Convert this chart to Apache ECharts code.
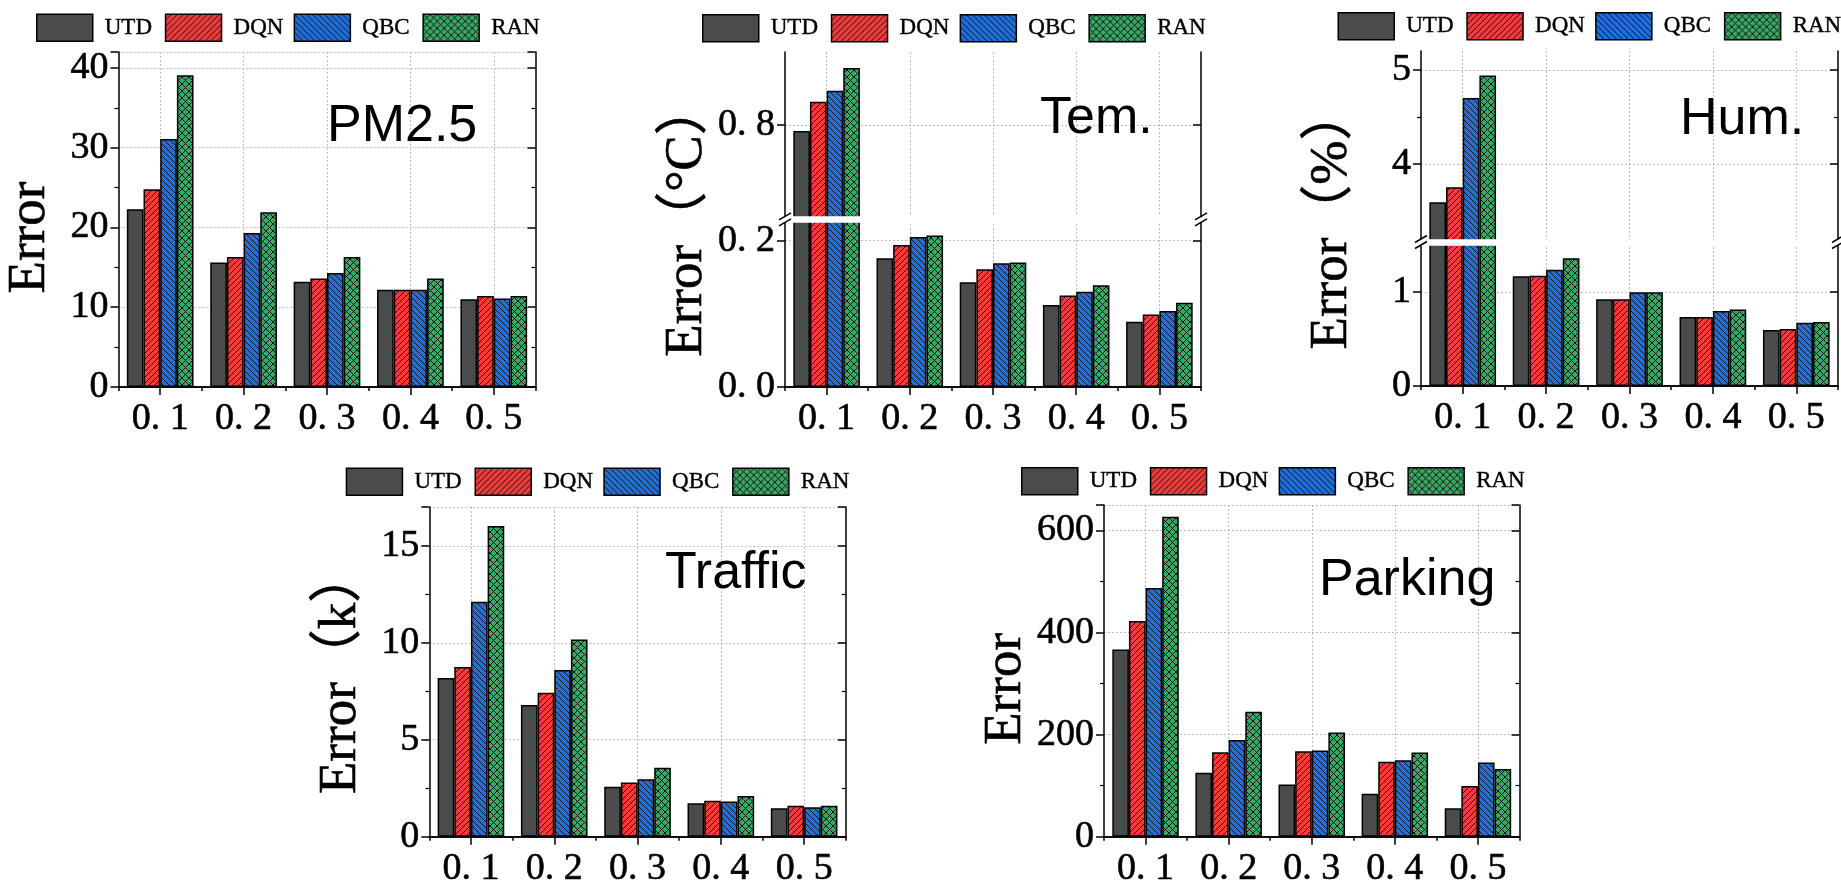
<!DOCTYPE html>
<html>
<head>
<meta charset="utf-8">
<script src="https://cdn.jsdelivr.net/npm/echarts@6/dist/echarts.min.js"></script>
<style>
  html, body { margin: 0; padding: 0; background: #fff; }
  #chart { width: 1841px; height: 888px; }
</style>
</head>
<body>
<div id="chart"></div>
<script>
// ---- data -------------------------------------------------------------
const categories = ['0.1', '0.2', '0.3', '0.4', '0.5'];
const methods = ['UTD', 'DQN', 'QBC', 'RAN'];

// PM2.5 error
const pmUTD = [22.3, 15.6, 13.2, 12.2, 11.0];
const pmDQN = [24.8, 16.3, 13.6, 12.2, 11.4];
const pmQBC = [31.1, 19.3, 14.3, 12.2, 11.1];
const pmRAN = [39.1, 21.9, 16.3, 13.6, 11.4];

// Temperature error (°C)
const temUTD = [0.792, 0.176, 0.143, 0.112, 0.089];
const temDQN = [0.832, 0.194, 0.161, 0.125, 0.099];
const temQBC = [0.847, 0.205, 0.169, 0.130, 0.104];
const temRAN = [0.878, 0.207, 0.170, 0.139, 0.115];

// Humidity error (%)
const humUTD = [3.59, 1.167, 0.922, 0.734, 0.596];
const humDQN = [3.75, 1.174, 0.922, 0.734, 0.606];
const humQBC = [4.70, 1.238, 0.997, 0.798, 0.674];
const humRAN = [4.94, 1.358, 0.997, 0.813, 0.681];

// Traffic error (k)
const trfUTD = [8.18, 6.79, 2.57, 1.72, 1.47];
const trfDQN = [8.75, 7.42, 2.79, 1.86, 1.59];
const trfQBC = [12.11, 8.59, 2.96, 1.81, 1.52];
const trfRAN = [16.02, 10.17, 3.55, 2.10, 1.59];

// Parking error
const parkUTD = [366.6, 125.4, 102.2, 84.0, 55.6];
const parkDQN = [422.8, 165.5, 167.4, 146.8, 99.5];
const parkQBC = [487.4, 189.5, 168.7, 150.0, 145.5];
const parkRAN = [627.1, 245.0, 204.3, 164.9, 132.5];

// ---- fills: solid + hatch patterns -------------------------------------
function hatch(bg, kind, size) {
  const c = document.createElement('canvas');
  c.width = size; c.height = size;
  const ctx = c.getContext('2d');
  ctx.fillStyle = bg;
  ctx.fillRect(0, 0, size, size);
  ctx.strokeStyle = '#111';
  ctx.lineWidth = 1;
  const s = size;
  const fwd = () => {
    ctx.beginPath();
    ctx.moveTo(-1, s + 1); ctx.lineTo(s + 1, -1);
    ctx.moveTo(-1, 1); ctx.lineTo(1, -1);
    ctx.moveTo(s - 1, s + 1); ctx.lineTo(s + 1, s - 1);
    ctx.stroke();
  };
  const back = () => {
    ctx.beginPath();
    ctx.moveTo(-1, -1); ctx.lineTo(s + 1, s + 1);
    ctx.moveTo(s - 1, -1); ctx.lineTo(s + 1, 1);
    ctx.moveTo(-1, s - 1); ctx.lineTo(1, s + 1);
    ctx.stroke();
  };
  if (kind === 'fwd' || kind === 'cross') fwd();
  if (kind === 'back' || kind === 'cross') back();
  return { image: c, repeat: 'repeat' };
}

const fills = [
  '#4b4b4b',
  hatch('#f23c3c', 'fwd', 6),
  hatch('#1f6fdd', 'back', 6),
  hatch('#3aa865', 'cross', 7)
];

// ---- panel layout ------------------------------------------------------
const serif = '"Liberation Serif", "Noto Sans CJK SC", serif';
const sans = '"Liberation Sans", Arial, sans-serif';

const intFmt = v => String(Math.round(v));
const decFmt = v => v.toFixed(1).replace('.', '. ');

const panels = [
  { title: 'PM2.5', yName: 'Error', namePad: 36, series: [pmUTD, pmDQN, pmQBC, pmRAN],
    grid: { left: 118.5, top: 52, width: 417, height: 335 },
    y: { min: 0, max: 42, interval: 10 }, fmt: intFmt,
    titlePos: [327, 101], legendPos: [36, 13.5] },
  { title: 'Tem.', yName: 'Error\uFF08\u00B0C\uFF09', namePad: 0, series: [temUTD, temDQN, temQBC, temRAN],
    grid: { left: 785, top: 52, width: 416, height: 335 },
    y: { min: 0, max: 0.9, interval: 0.2 }, fmt: decFmt,
    brk: { start: 0.225, end: 0.6755 }, labels: [0, 0.2, 0.8],
    titlePos: [1040, 93], legendPos: [702, 14] },
  { title: 'Hum.', yName: 'Error\uFF08%\uFF09', namePad: 0, series: [humUTD, humDQN, humQBC, humRAN],
    grid: { left: 1421, top: 51, width: 417, height: 335 },
    y: { min: 0, max: 5.2, interval: 1 }, fmt: intFmt,
    brk: { start: 1.5, end: 3.2 }, labels: [0, 1, 4, 5],
    titlePos: [1680, 94], legendPos: [1337.5, 12] },
  { title: 'Traffic', yName: 'Error\uFF08k\uFF09', namePad: 0, series: [trfUTD, trfDQN, trfQBC, trfRAN],
    grid: { left: 429.3, top: 507, width: 416.5, height: 335 },
    y: { min: 0, max: 17, interval: 5 }, fmt: intFmt,
    titlePos: [665, 548], legendPos: [345.7, 467.5] },
  { title: 'Parking', yName: 'Error', namePad: 36, series: [parkUTD, parkDQN, parkQBC, parkRAN],
    grid: { left: 1104, top: 505, width: 415.5, height: 335 },
    y: { min: 0, max: 650, interval: 200 }, fmt: intFmt,
    titlePos: [1319, 555], legendPos: [1021, 467] }
];

const legendStep = 128.8;
const gridLineStyle = { color: '#bdbdbd', width: 1, type: [2, 2] };
const axisLineStyle = { color: '#000', width: 1.5 };
const heavy = { textBorderColor: '#000', textBorderWidth: 0.6 };

function yAxisFor(p, side) {
  const left = side === 'left';
  const ax = {
    type: 'value', gridIndex: panels.indexOf(p), position: side,
    min: p.y.min, max: p.y.max, interval: p.y.interval,
    axisLine: { show: true, lineStyle: axisLineStyle },
    axisTick: { show: true, inside: !left, length: 8, lineStyle: axisLineStyle },
    minorTick: { show: true, splitNumber: 2, length: 4, lineStyle: { color: '#000', width: 1.2 } },
    axisLabel: Object.assign({
      show: left, margin: 10, color: '#000', fontFamily: serif, fontSize: 38,
      formatter: p.fmt, showMaxLabel: !!p.brk
    }, heavy),
    splitLine: { show: left, lineStyle: gridLineStyle },
    minorSplitLine: { show: false }
  };
  if (left) {
    ax.name = p.yName;
    ax.nameLocation = 'middle';
    ax.nameRotate = 90;
    ax.nameGap = 62;
    ax.nameTextStyle = Object.assign({
      color: '#000', fontFamily: serif, fontSize: 53,
      padding: [0, p.namePad, 0, 0]
    }, heavy);
  }
  if (p.brk) {
    ax.breaks = [{ start: p.brk.start, end: p.brk.end, gap: '1.8%' }];
    ax.breakArea = {
      show: true,
      itemStyle: { color: '#fff', borderWidth: 0, borderColor: 'transparent', opacity: 1 },
      zigzagAmplitude: 0,
      zigzagZ: 100,
      expandOnClick: false
    };
    ax.axisLabel.customValues = p.labels;
    ax.axisTick.customValues = p.labels;
  }
  return ax;
}

const option = {
  backgroundColor: '#fff',
  animation: false,
  grid: panels.map(p => Object.assign({ containLabel: false, show: false }, p.grid)),
  xAxis: panels.flatMap((p, pi) => [
    {
      type: 'category', gridIndex: pi, position: 'bottom', data: categories,
      axisLine: { show: true, lineStyle: axisLineStyle },
      axisTick: { show: true, alignWithLabel: true, length: 8, lineStyle: axisLineStyle },
      axisLabel: Object.assign({
        color: '#000', fontFamily: serif, fontSize: 38, margin: 13,
        formatter: v => v.replace('.', '. ')
      }, heavy),
      splitLine: { show: true, alignWithLabel: true, lineStyle: gridLineStyle }
    },
    {
      type: 'category', gridIndex: pi, position: 'top', data: categories,
      axisLine: { show: true, lineStyle: axisLineStyle },
      axisTick: { show: true, inside: true, alignWithLabel: true, length: 6, lineStyle: axisLineStyle },
      axisLabel: { show: false },
      splitLine: { show: false }
    },
    {
      // short ticks on the category boundaries
      type: 'category', gridIndex: pi, position: 'bottom', data: categories,
      axisLine: { show: false },
      axisTick: { show: true, length: 4, lineStyle: axisLineStyle },
      axisLabel: { show: false },
      splitLine: { show: false }
    }
  ]),
  yAxis: panels.flatMap(p => [yAxisFor(p, 'left'), yAxisFor(p, 'right')]),
  legend: panels.flatMap(p => methods.map((m, i) => ({
    data: [m],
    left: p.legendPos[0] + i * legendStep,
    top: p.legendPos[1],
    padding: 0,
    icon: 'rect',
    itemWidth: 56,
    itemHeight: 27,
    selectedMode: false,
    itemStyle: { borderColor: '#000', borderWidth: 1.5 },
    textStyle: {
      color: '#000', fontFamily: serif, fontSize: 23, padding: [0, 0, 0, 7],
      textBorderColor: '#000', textBorderWidth: 0.4
    }
  }))),
  series: panels.flatMap((p, pi) => p.series.map((vals, i) => ({
    type: 'bar',
    name: methods[i],
    xAxisIndex: 3 * pi,
    yAxisIndex: 2 * pi,
    data: vals,
    barGap: '0%',
    barCategoryGap: '20%',
    itemStyle: { color: fills[i], borderColor: '#000', borderWidth: 1.5 },
    emphasis: { disabled: true },
    silent: true
  })))
};

const chart = echarts.init(document.getElementById('chart'), null, { renderer: 'canvas' });
chart.setOption(option);

// Panel captions and the "//" marks where an axis is broken.
const graphics = panels.map(p => ({
  type: 'text', left: p.titlePos[0], top: p.titlePos[1], z: 50,
  style: { text: p.title, font: '52px ' + sans, fill: '#000' }
}));

panels.forEach((p, pi) => {
  if (!p.brk) return;
  const yLow = chart.convertToPixel({ yAxisIndex: 2 * pi }, p.brk.start);
  const yHigh = chart.convertToPixel({ yAxisIndex: 2 * pi }, p.brk.end);
  [p.grid.left, p.grid.left + p.grid.width].forEach(x => {
    [yLow, yHigh].forEach(y => {
      graphics.push({
        type: 'line', z: 200,
        shape: { x1: x - 6, y1: y + 3.5, x2: x + 6, y2: y - 3.5 },
        style: { stroke: '#000', lineWidth: 1.5 }
      });
    });
  });
});

chart.setOption({ graphic: graphics });
</script>
</body>
</html>
